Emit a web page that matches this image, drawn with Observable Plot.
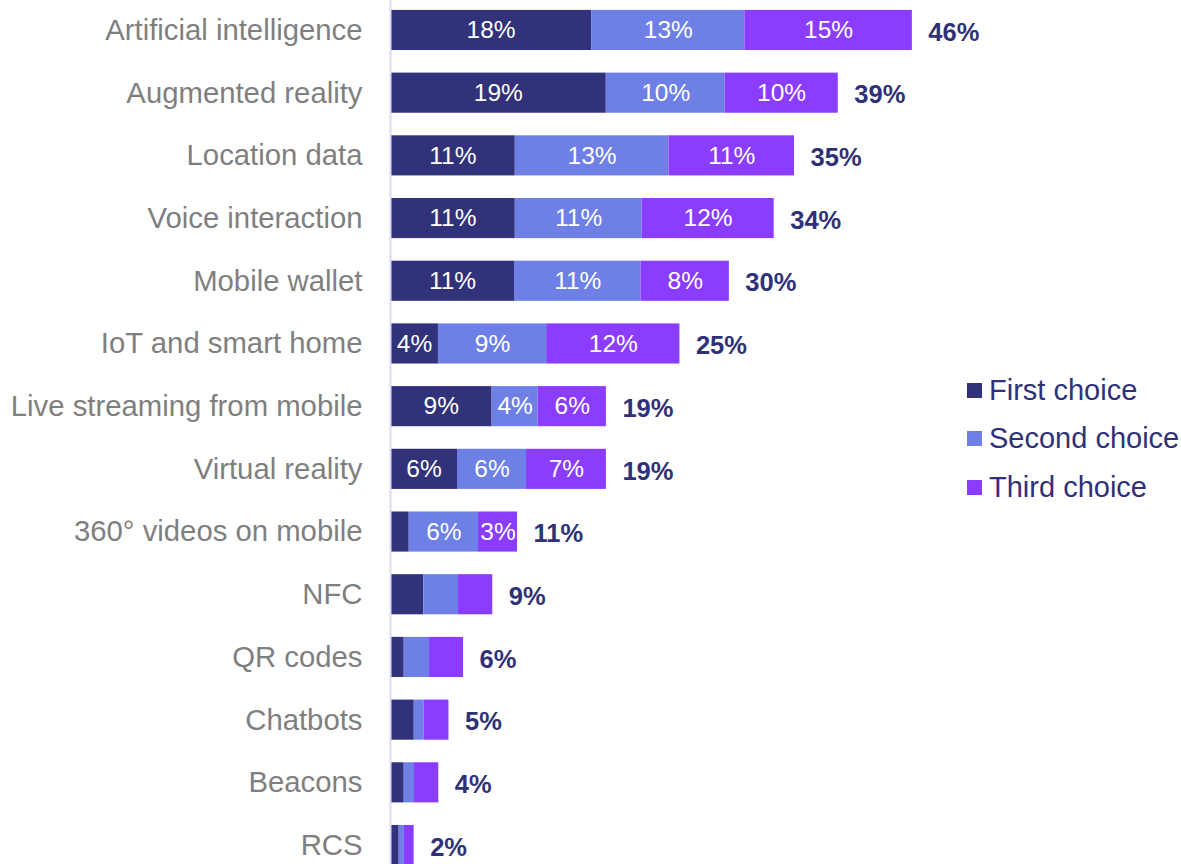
<!DOCTYPE html>
<html>
<head>
<meta charset="utf-8">
<script src="https://cdn.jsdelivr.net/npm/d3@7"></script>
<script src="https://cdn.jsdelivr.net/npm/@observablehq/plot@0.6"></script>
<style>
  html, body { margin: 0; padding: 0; background: #fff; overflow: hidden; }
  #wrap { position: relative; width: 1181px; height: 864px; }
  #legend { position: absolute; left: 967px; top: 366px; font-family: "Liberation Sans", Arial, sans-serif; font-size: 29px; color: #2f3178; }
  .item { display: flex; align-items: center; height: 48.5px; white-space: nowrap; }
  .sw { width: 15px; height: 15px; margin-right: 7px; flex: none; }
</style>
</head>
<body>
<div id="wrap"><div id="chart"></div><div id="legend"></div></div>
<script>
const categories = ["Artificial intelligence", "Augmented reality", "Location data", "Voice interaction", "Mobile wallet", "IoT and smart home", "Live streaming from mobile", "Virtual reality", "360° videos on mobile", "NFC", "QR codes", "Chatbots", "Beacons", "RCS"];
const firstChoice  = [17.62, 18.9, 10.93, 10.93, 10.86, 4.2, 8.9, 5.87, 1.64, 2.92, 1.2, 2.08, 1.2, 0.76];
const secondChoice = [13.42, 10.4, 13.46, 11.1, 11.09, 9.48, 4.03, 6.04, 6.07, 3.04, 2.22, 0.88, 0.9, 0.46];
const thirdChoice  = [14.67, 9.92, 11.0, 11.58, 7.73, 11.67, 5.98, 7.0, 3.42, 3.0, 2.98, 2.16, 2.13, 0.85];
const choices = ["First choice", "Second choice", "Third choice"];
const colors = ["#31327a", "#6e80e6", "#8a3dff"];

const series = [firstChoice, secondChoice, thirdChoice];
const rows = [];
categories.forEach((c, i) => {
  const total = firstChoice[i] + secondChoice[i] + thirdChoice[i];
  choices.forEach((ch, j) => rows.push({cat: c, choice: ch, value: series[j][i], total}));
});
const totals = categories.map((c, i) => ({cat: c, total: firstChoice[i] + secondChoice[i] + thirdChoice[i]}));

const chart = Plot.plot({
  width: 1181,
  height: 875,
  marginLeft: 390,
  marginRight: 106,
  marginTop: 0,
  marginBottom: 0,
  style: {fontFamily: "'Liberation Sans', Arial, sans-serif", fontSize: "29px", background: "#fff"},
  x: {domain: [0, 60], axis: null},
  y: {domain: categories, paddingInner: 0.36, paddingOuter: 0.158, round: false, label: null},
  color: {domain: choices, range: colors},
  marks: [
    Plot.axisY({tickSize: 0, tickPadding: 28, fill: "#7f7f7f", label: null, fontSize: 29.3}),
    Plot.barX(rows, {x: "value", y: "cat", fill: "choice", order: choices}),
    Plot.textX(rows, Plot.stackX({
      x: "value", y: "cat", z: "choice", order: choices,
      text: d => (d.total >= 10 && d.value >= 2) ? Math.round(d.value) + "%" : "",
      fill: "white", fontSize: 24.5
    })),
    Plot.text(totals, {
      x: "total", y: "cat", dx: 16, dy: 2, textAnchor: "start",
      text: d => Math.round(d.total) + "%",
      fill: "#2f3178", fontWeight: "bold", fontSize: 25.5
    }),
    Plot.ruleX([0], {stroke: "#dcdcf0", strokeWidth: 2})
  ]
});
document.getElementById("chart").appendChild(chart);

const legend = document.getElementById("legend");
choices.forEach((ch, j) => {
  const item = document.createElement("div");
  item.className = "item";
  const sw = document.createElement("span");
  sw.className = "sw";
  sw.style.background = colors[j];
  const label = document.createElement("span");
  label.textContent = ch;
  item.appendChild(sw);
  item.appendChild(label);
  legend.appendChild(item);
});
</script>
</body>
</html>
